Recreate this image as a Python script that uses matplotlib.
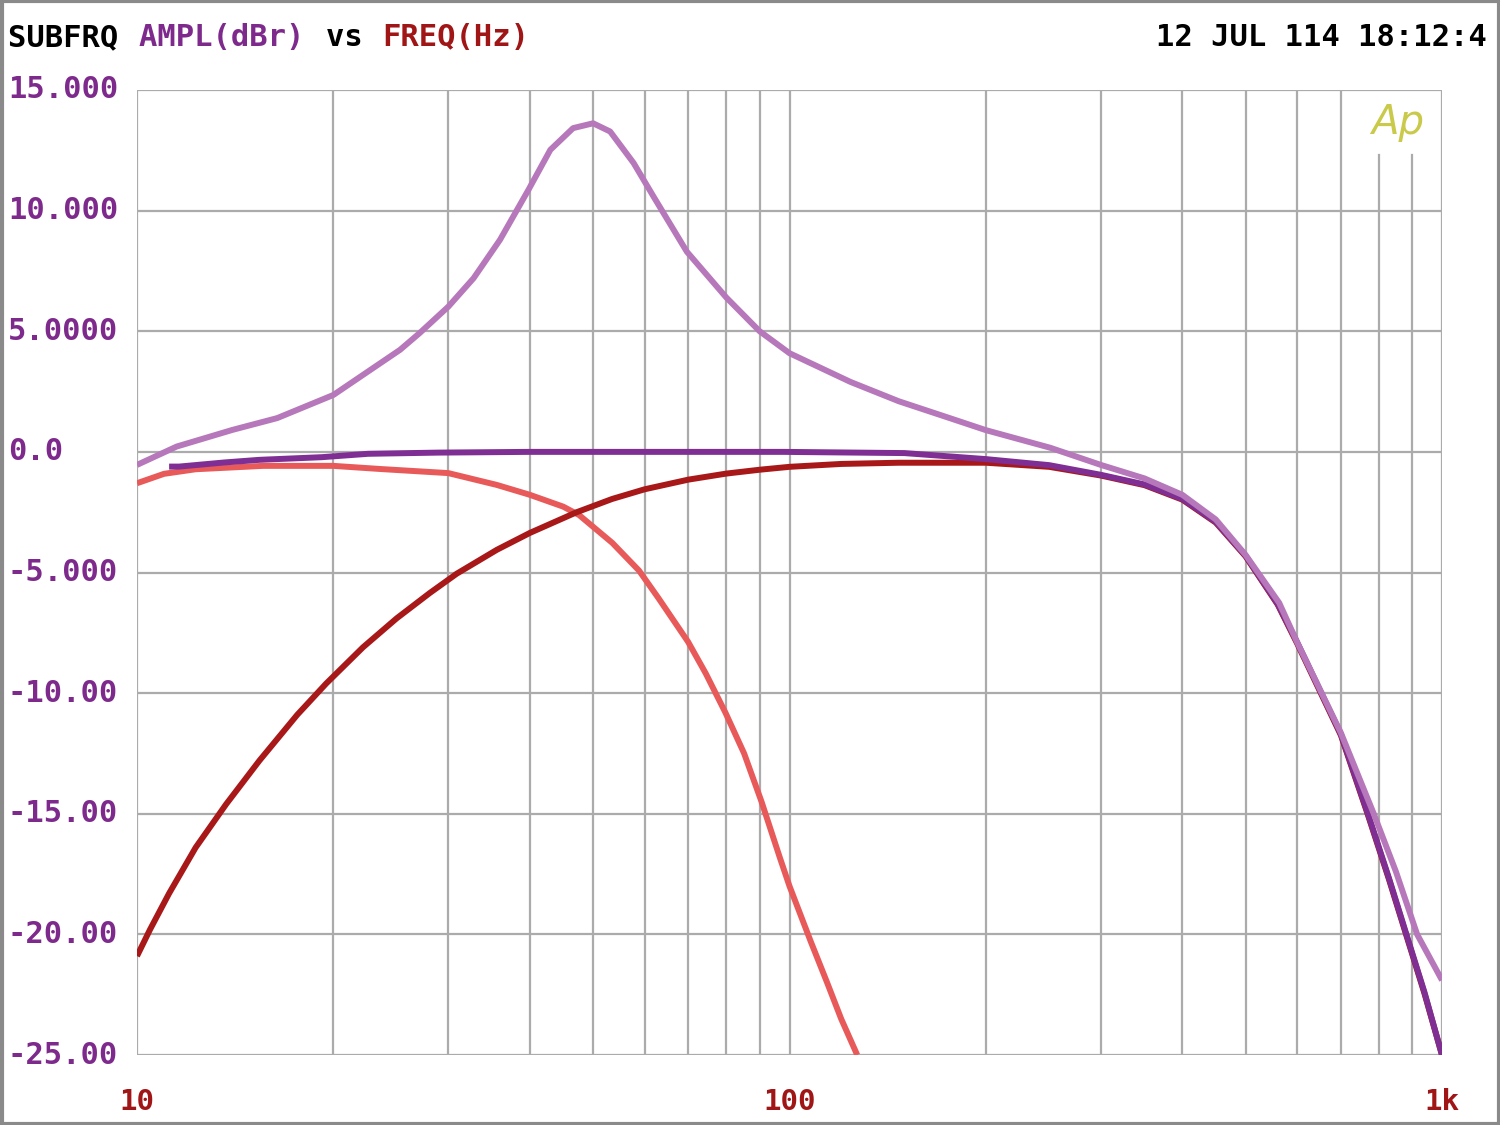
import matplotlib
matplotlib.use("Agg")
import matplotlib.pyplot as plt
import matplotlib.patches as patch
from matplotlib.ticker import FixedLocator, NullFormatter
import matplotlib.transforms as mtrans

# light purple: resonant response
lp_f = [10, 11.5, 14.0, 16.4, 20, 25.3, 27.1, 30, 32.8, 36.0, 39.8, 43.0, 46.6, 50, 53.1,
        57.7, 61.9, 69.6, 80, 90, 100, 124, 147, 176, 200, 251, 300, 350, 400, 450, 500,
        563, 600, 700, 786, 850, 916, 1000]
lp_db = [-0.54, 0.22, 0.91, 1.4, 2.36, 4.23, 4.92, 6.02, 7.2, 8.79, 10.86, 12.52, 13.42,
         13.62, 13.28, 11.97, 10.58, 8.3, 6.4, 5.0, 4.09, 2.9, 2.1, 1.4, 0.9, 0.17,
         -0.54, -1.1, -1.78, -2.8, -4.27, -6.26, -7.9, -11.65, -15.0, -17.4, -20.0, -21.9]

# dark purple: flat response
dp_f = [11.2, 11.6, 13.6, 15.4, 19.2, 22.6, 29.0, 40, 98, 150, 200, 250, 300, 350,
        400, 450, 500, 560, 600, 700, 770, 830, 882, 940, 1000]
dp_db = [-0.61, -0.61, -0.44, -0.33, -0.22, -0.08, -0.03, 0.0, 0.0, -0.05, -0.3, -0.55,
         -0.95, -1.35, -1.95, -2.9, -4.3, -6.3, -7.9, -11.7, -15.0, -17.7, -20.0, -22.4, -25.0]

# dark red: high pass
hp_f = [10, 10.47, 11.2, 12.3, 13.7, 15.4, 17.6, 19.5, 22.2, 25, 28.1, 30.9, 35.6, 40, 47.2,
        53.5, 60, 70, 80, 90, 100, 120, 147, 200, 250, 300, 350, 400, 450, 500, 560, 600,
        700, 770, 830, 882, 940, 1000]
hp_db = [-20.9, -19.8, -18.3, -16.4, -14.6, -12.8, -10.9, -9.6, -8.1, -6.9, -5.85, -5.05,
         -4.06, -3.36, -2.5, -1.95, -1.55, -1.15, -0.9, -0.74, -0.62, -0.5, -0.45, -0.45,
         -0.62, -0.98, -1.38, -1.98, -2.93, -4.33, -6.33, -7.95, -11.75, -15.05, -17.75,
         -20.05, -22.45, -25.0]

# light red: low pass
lr_f = [10, 11, 12.3, 15.6, 20, 23.6, 30, 35.6, 40, 45, 47.6, 53.5, 58.8, 63.0, 69.9, 74.4,
        79.8, 85.2, 90.6, 96.6, 100, 107.8, 114.2, 120, 127]
lr_db = [-1.3, -0.91, -0.72, -0.58, -0.58, -0.71, -0.88, -1.37, -1.78, -2.27, -2.62, -3.77,
         -4.92, -6.07, -7.87, -9.18, -10.82, -12.5, -14.5, -16.8, -18.0, -20.3, -22.0,
         -23.5, -25.0]

yticks = [15, 10, 5, 0, -5, -10, -15, -20, -25]
ytick_labels = ["15.000", "10.000", "5.0000", "0.0", "-5.000", "-10.00", "-15.00", "-20.00", "-25.00"]
xticks = [10, 100, 1000]
xtick_labels = ["10", "100", "1k"]
grid_x = [10, 20, 30, 40, 50, 60, 70, 80, 90, 100, 200, 300, 400, 500, 600, 700, 1000]
grid_x_short = [800, 900]  # these stop below the Ap logo

purple = "#7d2a8c"
red = "#a01515"
mono = "DejaVu Sans Mono"

fig = plt.figure(figsize=(15, 11.25), dpi=100)
ax = fig.add_axes([137 / 1500, 1 - 1055 / 1125, (1442 - 137) / 1500, (1055 - 90) / 1125])
ax.set_xscale("log")
ax.set_xlim(10, 1000)
ax.set_ylim(-25, 15)

gcol = "#ababab"
for g in grid_x:
    ax.axvline(g, color=gcol, lw=1.6, zorder=1)
for g in grid_x_short:
    ax.plot([g, g], [-25, 12.3], color=gcol, lw=1.6, zorder=1)
for g in yticks:
    ax.axhline(g, color=gcol, lw=1.6, zorder=1)
for s in ax.spines.values():
    s.set_visible(False)

ax.plot(lr_f, lr_db, color="#e85a5a", lw=4.3, zorder=3, solid_capstyle="butt")
ax.plot(hp_f, hp_db, color="#a81818", lw=4.3, zorder=4, solid_capstyle="butt")
ax.plot(dp_f, dp_db, color="#7f2f93", lw=4.3, zorder=5, solid_capstyle="butt")
ax.plot(lp_f, lp_db, color="#b678ba", lw=4.3, zorder=6, solid_capstyle="butt")

ax.xaxis.set_major_locator(FixedLocator([]))
ax.xaxis.set_minor_locator(FixedLocator([]))
ax.xaxis.set_minor_formatter(NullFormatter())
ax.set_yticks([])

# y labels, left aligned at the figure edge
ytr = mtrans.blended_transform_factory(fig.transFigure, ax.transData)
for v, lab in zip(yticks, ytick_labels):
    ax.text(8 / 1500, v, lab, transform=ytr, ha="left", va="center", fontsize=22,
            family=mono, weight="bold", color=purple, clip_on=False)
# x labels
xtr = mtrans.blended_transform_factory(ax.transData, fig.transFigure)
for v, lab in zip(xticks, xtick_labels):
    ax.text(v, 1 - 1102 / 1125, lab, transform=xtr, ha="center", va="center", fontsize=21,
            family=mono, weight="bold", color=red, clip_on=False)

# title parts
ty = 1 - 38 / 1125
x0 = 8 / 1500
parts = [("SUBFRQ ", "black"), ("AMPL(dBr) ", purple), ("vs ", "black"), ("FREQ(Hz)", red)]
cw = 18.7 / 1500
for txt, col in parts:
    fig.text(x0, ty, txt, ha="left", va="center", fontsize=22, family=mono,
             weight="bold", color=col)
    x0 += cw * len(txt)
fig.text(1487 / 1500, ty, "12 JUL 114 18:12:4", ha="right", va="center", fontsize=22,
         family=mono, weight="bold", color="black")

# Ap logo
ax.text(1398 / 1500, 1 - 123 / 1125, "Ap", transform=fig.transFigure, ha="center", va="center",
        fontsize=29, style="italic", weight="light", family="DejaVu Sans", color="#c9c94a")

# outer frame
fig.patches.append(patch.Rectangle((0.001, 0.001), 0.998, 0.998, transform=fig.transFigure,
                                   fill=False, edgecolor="#8a8a8a", lw=3))

fig.savefig("out.png", dpi=100, facecolor="white")
